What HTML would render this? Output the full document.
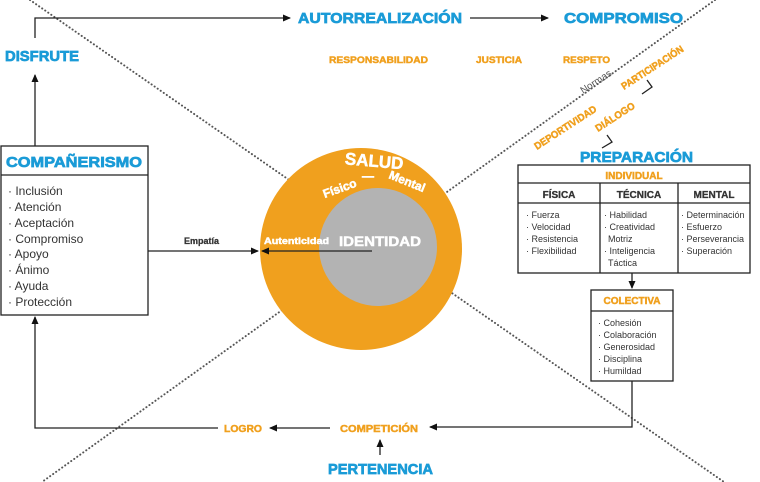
<!DOCTYPE html>
<html><head><meta charset="utf-8"><style>
html,body{margin:0;padding:0;background:#fff;}
svg{display:block;font-family:"Liberation Sans","DejaVu Sans",sans-serif;}
.b{fill:#1a9bd7;font-weight:bold;stroke:#1a9bd7;stroke-width:0.7;}
.o{fill:#f0a01e;font-weight:bold;stroke:#f0a01e;stroke-width:0.45;}
.w{fill:#fff;font-weight:bold;stroke:#fff;stroke-width:0.5;}
.k{fill:#333;font-weight:bold;stroke:#333;stroke-width:0.3;}
.t{fill:#333;font-size:11px;}
.s{fill:#333;font-size:9px;}
</style></head><body>
<svg width="760" height="482" viewBox="0 0 760 482">
<defs><marker id="a" markerWidth="8" markerHeight="8" refX="7" refY="4" orient="auto" markerUnits="userSpaceOnUse"><path d="M0,0.5 L8,4 L0,7.5Z" fill="#111"/></marker></defs>
<g stroke="#555" stroke-width="2" stroke-dasharray="0.1 3.6" stroke-linecap="round">
<line x1="30" y1="0" x2="724" y2="482"/>
<line x1="715" y1="0" x2="42" y2="482"/>
</g>
<circle cx="361" cy="249" r="101" fill="#f0a01e"/>
<circle cx="378" cy="247" r="59" fill="#b3b3b3"/>
<g fill="none" stroke="#222" stroke-width="1.3">
<polyline points="35,38 35,18 290,18" marker-end="url(#a)"/>
<line x1="470" y1="18" x2="548" y2="18" marker-end="url(#a)"/>
<line x1="35" y1="146" x2="35" y2="75" marker-end="url(#a)"/>
<line x1="148" y1="251" x2="258" y2="251" marker-end="url(#a)"/>
<line x1="372" y1="251" x2="262" y2="251" marker-end="url(#a)"/>
<polyline points="632,381 632,427 430,427" marker-end="url(#a)"/>
<line x1="330" y1="428" x2="270" y2="428" marker-end="url(#a)"/>
<polyline points="218,428 35,428 35,317" marker-end="url(#a)"/>
<line x1="380" y1="455" x2="380" y2="440" marker-end="url(#a)"/>
<line x1="632" y1="273" x2="632" y2="288" marker-end="url(#a)"/>
<polyline points="647,80 652,87 642,94"/>
<polyline points="607,135 612,142 602,148" />
</g>
<text class="b" x="298" y="23" font-size="15" textLength="164" lengthAdjust="spacingAndGlyphs">AUTORREALIZACIÓN</text>
<text class="b" x="564" y="23" font-size="15" textLength="119" lengthAdjust="spacingAndGlyphs">COMPROMISO</text>
<text class="b" x="5" y="61" font-size="15" textLength="74" lengthAdjust="spacingAndGlyphs">DISFRUTE</text>
<text class="o" x="329" y="63" font-size="9.5" textLength="99" lengthAdjust="spacingAndGlyphs">RESPONSABILIDAD</text>
<text class="o" x="476" y="63" font-size="9.5" textLength="46" lengthAdjust="spacingAndGlyphs">JUSTICIA</text>
<text class="o" x="563" y="63" font-size="9.5" textLength="47" lengthAdjust="spacingAndGlyphs">RESPETO</text>
<text x="583" y="94" font-size="10" fill="#555" transform="rotate(-33 583 94)">Normas</text>
<text class="o" x="624" y="90" font-size="10" transform="rotate(-33 624 90)" textLength="72" lengthAdjust="spacingAndGlyphs">PARTICIPACIÓN</text>
<text class="o" x="537" y="150" font-size="10" transform="rotate(-33 537 150)" textLength="72" lengthAdjust="spacingAndGlyphs">DEPORTIVIDAD</text>
<text class="o" x="598" y="132" font-size="10" transform="rotate(-33 598 132)" textLength="45" lengthAdjust="spacingAndGlyphs">DIÁLOGO</text>
<text class="b" x="580" y="162" font-size="15" textLength="113" lengthAdjust="spacingAndGlyphs">PREPARACIÓN</text>
<text class="w" x="345" y="166" font-size="17" transform="rotate(5 365 160)">SALUD</text>
<text class="w" x="323" y="196" font-size="12" transform="rotate(-20 330 192)">Físico</text>
<text class="w" x="362" y="180" font-size="12">—</text>
<text class="w" x="388" y="178" font-size="12" transform="rotate(22 388 178)">Mental</text>
<text class="w" x="339" y="246" font-size="14" textLength="82" lengthAdjust="spacingAndGlyphs">IDENTIDAD</text>
<text class="w" x="264" y="244" font-size="9.5" stroke-width="0.3" textLength="65" lengthAdjust="spacingAndGlyphs">Autenticidad</text>
<text class="k" x="184" y="244" font-size="9">Empatía</text>
<rect x="1" y="146" width="147" height="169" fill="#fff" stroke="#222" stroke-width="1.3"/>
<line x1="1" y1="175" x2="148" y2="175" stroke="#222" stroke-width="1.3"/>
<text class="b" x="6" y="167" font-size="14.5" textLength="136" lengthAdjust="spacingAndGlyphs">COMPAÑERISMO</text>
<g font-size="12" fill="#333">
<text x="8" y="195">· Inclusión</text>
<text x="8" y="211">· Atención</text>
<text x="8" y="227">· Aceptación</text>
<text x="8" y="243">· Compromiso</text>
<text x="8" y="258">· Apoyo</text>
<text x="8" y="274">· Ánimo</text>
<text x="8" y="290">· Ayuda</text>
<text x="8" y="306">· Protección</text>
</g>
<g fill="none" stroke="#222" stroke-width="1.3">
<rect x="518" y="165" width="232" height="108" fill="#fff"/>
<line x1="518" y1="183" x2="750" y2="183"/>
<line x1="518" y1="203" x2="750" y2="203"/>
<line x1="600" y1="183" x2="600" y2="273"/>
<line x1="678" y1="183" x2="678" y2="273"/>
<rect x="591" y="290" width="82" height="91" fill="#fff"/>
<line x1="591" y1="311" x2="673" y2="311"/>
</g>
<text class="o" x="634" y="179" font-size="10" text-anchor="middle">INDIVIDUAL</text>
<text class="k" x="559" y="198" font-size="10" text-anchor="middle">FÍSICA</text>
<text class="k" x="639" y="198" font-size="10" text-anchor="middle">TÉCNICA</text>
<text class="k" x="714" y="198" font-size="10" text-anchor="middle">MENTAL</text>
<g class="s">
<text x="526" y="218">· Fuerza</text>
<text x="526" y="230">· Velocidad</text>
<text x="526" y="242">· Resistencia</text>
<text x="526" y="254">· Flexibilidad</text>
<text x="604" y="218">· Habilidad</text>
<text x="604" y="230">· Creatividad</text>
<text x="608" y="242">Motriz</text>
<text x="604" y="254">· Inteligencia</text>
<text x="608" y="266">Táctica</text>
<text x="681" y="218">· Determinación</text>
<text x="681" y="230">· Esfuerzo</text>
<text x="681" y="242">· Perseverancia</text>
<text x="681" y="254">· Superación</text>
<text x="598" y="326">· Cohesión</text>
<text x="598" y="338">· Colaboración</text>
<text x="598" y="350">· Generosidad</text>
<text x="598" y="362">· Disciplina</text>
<text x="598" y="374">· Humildad</text>
</g>
<text class="o" x="632" y="304" font-size="10" text-anchor="middle">COLECTIVA</text>
<text class="o" x="340" y="432" font-size="10" textLength="78" lengthAdjust="spacingAndGlyphs">COMPETICIÓN</text>
<text class="o" x="224" y="432" font-size="10" textLength="38" lengthAdjust="spacingAndGlyphs">LOGRO</text>
<text class="b" x="328" y="474" font-size="15" textLength="105" lengthAdjust="spacingAndGlyphs">PERTENENCIA</text>
</svg>
</body></html>
